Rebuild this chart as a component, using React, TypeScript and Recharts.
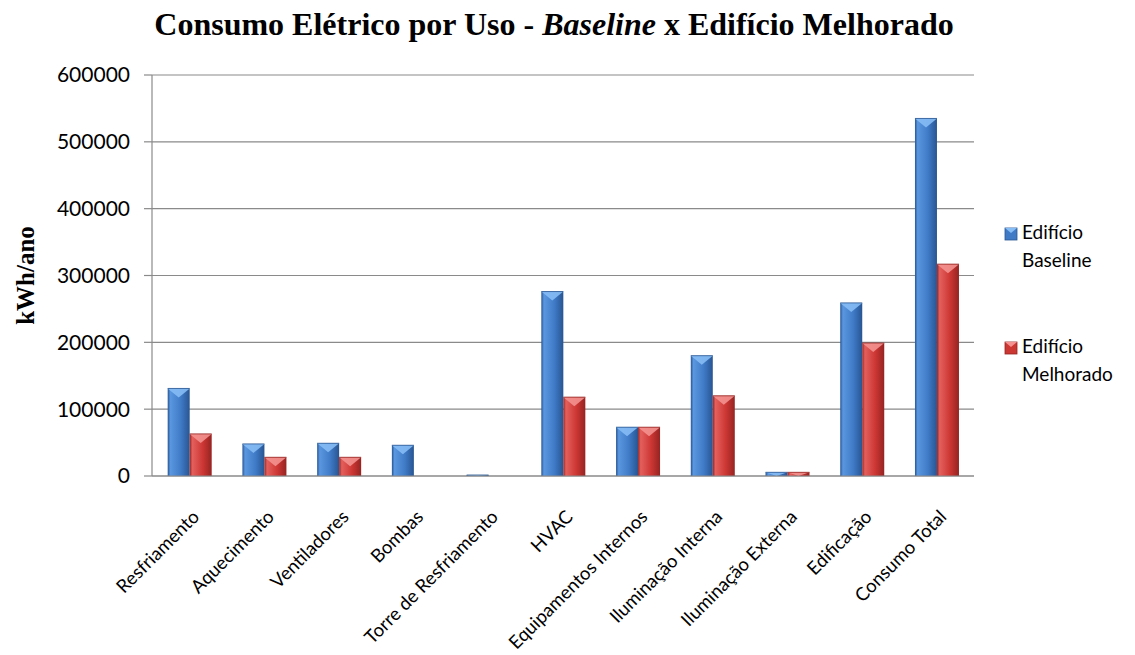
import { BarChart, Bar, XAxis, YAxis, CartesianGrid } from "recharts";

const categories = [
  "Resfriamento",
  "Aquecimento",
  "Ventiladores",
  "Bombas",
  "Torre de Resfriamento",
  "HVAC",
  "Equipamentos Internos",
  "Iluminação Interna",
  "Iluminação Externa",
  "Edificação",
  "Consumo Total",
];
const baseline = [131000, 48000, 49000, 46000, 1500, 276000, 73000, 180000, 5500, 259000, 535000];
const melhorado = [63000, 28000, 28000, 0, 0, 118000, 73000, 120000, 5500, 199000, 317000];
const yTicks = [0, 100000, 200000, 300000, 400000, 500000, 600000];

const data = categories.map((c, i) => ({ name: c, base: baseline[i], melh: melhorado[i] }));

const PALETTE = {
  base: { light: "#5a97e0", mid: "#3f7ac6", dark: "#285592", top: "#86bdf5" },
  melh: { light: "#e4605d", mid: "#cc3633", dark: "#952422", top: "#f39290" },
};

// barra com gradiente horizontal e chanfro claro no topo, imitando o estilo 3D do Excel
function BevelBar(props: any) {
  const { x, y, width, height, kind } = props;
  if (!height || height <= 0) return null;
  const b = Math.min(9, height, width / 2);
  return (
    <g>
      <rect x={x} y={y} width={width} height={height} fill={`url(#grad-${kind})`} />
      <polygon
        points={`${x},${y} ${x + width},${y} ${x + width / 2},${y + b}`}
        fill={PALETTE[kind as "base" | "melh"].top}
        opacity={0.9}
      />
      <line x1={x} y1={y} x2={x + width} y2={y} stroke={PALETTE[kind as "base" | "melh"].dark} strokeWidth={0.8} />
    </g>
  );
}

function XTick({ x, y, payload }: any) {
  const ax = x + 11;
  const ay = y + 34;
  return (
    <text
      x={ax}
      y={ay}
      transform={`rotate(-45 ${ax} ${ay})`}
      textAnchor="end"
      fontFamily="Lato"
      fontSize={18.5}
      fill="#000"
    >
      {payload.value}
    </text>
  );
}

function LegendBox() {
  const items = [
    { kind: "base" as const, l1: "Edifício", l2: "Baseline", top: 239 },
    { kind: "melh" as const, l1: "Edifício", l2: "Melhorado", top: 353 },
  ];
  return (
    <svg width={140} height={655} style={{ position: "absolute", left: 1000, top: 0 }}>
      {items.map((it) => (
        <g key={it.kind}>
          <rect x={5} y={it.top - 11} width={12} height={12} fill={PALETTE[it.kind].mid} stroke={PALETTE[it.kind].dark} strokeWidth={0.8} />
          <polygon points={`${5},${it.top - 11} ${17},${it.top - 11} ${11},${it.top - 6}`} fill={PALETTE[it.kind].top} />
          <text x={22} y={it.top} fontFamily="Lato" fontSize={19} fill="#000">
            {it.l1}
          </text>
          <text x={22} y={it.top + 28} fontFamily="Lato" fontSize={19} fill="#000">
            {it.l2}
          </text>
        </g>
      ))}
    </svg>
  );
}

export default function App() {
  return (
    <div style={{ position: "relative", width: 1135, height: 655, background: "#fff" }}>
      <style>{`body{margin:0}`}</style>
      <div style={{ position: "absolute", left: 0, top: 0 }}>
        <BarChart
          width={1135}
          height={655}
          data={data}
          margin={{ top: 75, right: 161, bottom: 0, left: 0 }}
          barCategoryGap="21%"
          barGap={0}
        >
          <defs>
            {(["base", "melh"] as const).map((k) => (
              <linearGradient key={k} id={`grad-${k}`} x1="0" y1="0" x2="1" y2="0">
                <stop offset="0%" stopColor={PALETTE[k].dark} />
                <stop offset="12%" stopColor={PALETTE[k].light} />
                <stop offset="60%" stopColor={PALETTE[k].mid} />
                <stop offset="100%" stopColor={PALETTE[k].dark} />
              </linearGradient>
            ))}
          </defs>
          <CartesianGrid vertical={false} stroke="#8a8a8a" strokeWidth={1.2} />
          <XAxis
            dataKey="name"
            interval={0}
            tick={<XTick />}
            tickLine={false}
            axisLine={{ stroke: "#8a8a8a", strokeWidth: 1.2 }}
            height={179}
          />
          <YAxis
            domain={[0, 600000]}
            ticks={yTicks}
            width={152}
            tickSize={8}
            tickMargin={14}
            tickLine={{ stroke: "#8a8a8a", strokeWidth: 1.2 }}
            axisLine={{ stroke: "#8a8a8a", strokeWidth: 1.2 }}
            tick={{ fontFamily: "Lato", fontSize: 21, fill: "#000" }}
            label={{
              value: "kWh/ano",
              angle: -90,
              position: "insideLeft",
              dx: 20,
              fontFamily: "Liberation Serif",
              fontWeight: "bold",
              fontSize: 25,
              fill: "#000",
              style: { textAnchor: "middle" },
            }}
          />
          <Bar dataKey="base" name="Edifício Baseline" shape={<BevelBar kind="base" />} isAnimationActive={false} />
          <Bar dataKey="melh" name="Edifício Melhorado" shape={<BevelBar kind="melh" />} isAnimationActive={false} />
        </BarChart>
      </div>
      <svg width={1135} height={60} style={{ position: "absolute", left: 0, top: 0 }}>
        <text x={554} y={35} textAnchor="middle" fontFamily="Liberation Serif" fontWeight="bold" fontSize={32} fill="#000">
          Consumo Elétrico por Uso - <tspan fontStyle="italic">Baseline</tspan> x Edifício Melhorado
        </text>
      </svg>
      <LegendBox />
    </div>
  );
}
